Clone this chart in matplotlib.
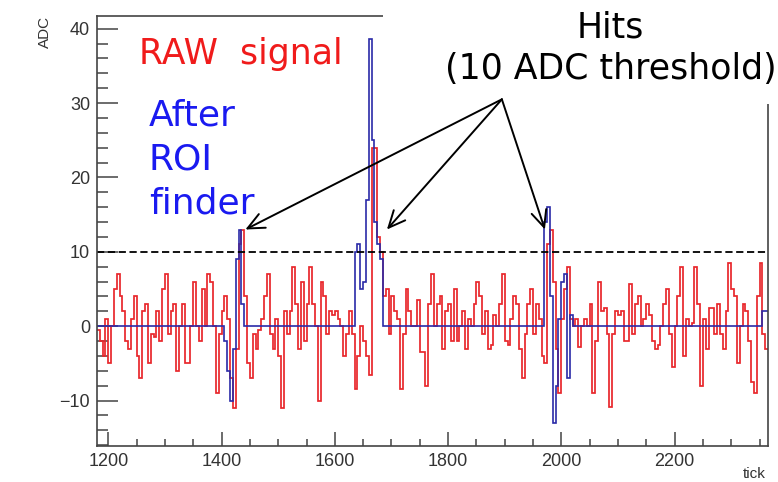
import numpy as np
import matplotlib
matplotlib.use('Agg')
import matplotlib.pyplot as plt
from matplotlib.patches import Rectangle
from matplotlib.ticker import MultipleLocator

plt.rcParams['font.family'] = ['Liberation Sans', 'DejaVu Sans']

# ── waveform: raw ADC per 5-tick bin, starting at tick 1180 ─────────────────
tick0 = 1180
bin_w = 5
raw_adc = [
    -0.5, -2, -4, 1, -5, 0, 5, 7, 4, 2, -2, -3, 1, 4, -4, -7, 2, 3, -5, -1,
    -1.5, 2, -2, 5, 7, -1, 2, 3, -6, 0, 3, -5, -5, 0, 6, 0, -2, 5, 0, 7,
    6, 0, -9, -1, 2, 4, 1, -7, -11, -3, 11, 13, 4, -5, -7, -1, -3, -0.5, 1, 4,
    7, -1, -3, 1, -4, -11, 2, -1, 2, 8, 3, -3, 6, -2, 3, 8, 3, 0,
    -10, 6, 4, -1, 2, 1.5, 2, 1, 0, -4, -1, 2, -1, -8.5, -4, 0, -2, -4, -6.5, 24,
    24, 12, 10, 4, 5, -1, 4, 2, 1, -8.5, -1, 5, 2, 0, 0, 3.5, -3.5, -3.5,
    -8, 3, 7, 0, 3, 4, -3, 2, 3, -2, 5, -2, 0, 2, -3, 1, 0, 3, 6, 4,
    -1, 2, -3, -2.5, 1.5, 0, 3, 7, -2, -2.5, 1, 4, 3, -3, -7, -1, 3, 5,
    -1, 3, 1, -4, -5, 11, 13, 6, -3, -9, 1, 5, 8, 1, 0, 1, -2.8, 0, 1, 0,
    3, -9, -2, 6, 2, 2.5, -1, -10.8, -1, 2, 1.5, 2, -2, -2, 5.7, -1, 3, 4,
    0, 1, 3, 1.5, -2, -3, -2.5, 0, 3, 5, -1, -5.5, 0, 4, 8, -4, 1, 0, 0.5, 8,
    3, -8, 1, -3, 2.5, 2.5, -1, 3, -1, -3, 2, 8.5, 5, 4, -5, 0, 3, 2, -2, -7.5,
    -9, 4, 8.5, -1, -3,
]

# ROI finder output: zero outside the regions of interest
roi_start = [1405, 1635, 1970, 2355]
roi_adc = [
    [-2, -6, -10, -3, 9, 13, 3],
    [10, 11, 5, 6, 17, 38.6, 25, 14, 11, 9],
    [14, 16, 4, -13, -8, 1, 6, 7, -7, 1.5],
    [2, 2],
]

threshold = 10
hit_ticks = [1442, 1692, 1971]
hit_adc = [13, 13, 13]
label_origin = (1895, 30.5)

RED = '#e8272b'
BLUE = '#2a2aa8'
AXC = '#444444'

raw = np.array(raw_adc, dtype=float)
edges = tick0 + bin_w * np.arange(len(raw) + 1)
roi = np.zeros_like(raw)
for s, vals in zip(roi_start, roi_adc):
    i = (s - tick0) // bin_w
    roi[i:i + len(vals)] = vals

W, H = 778, 482
fig = plt.figure(figsize=(W / 100, H / 100), dpi=100)
ax = fig.add_axes([97 / W, 1 - 446 / H, (768 - 97) / W, (446 - 16) / H])

ax.stairs(raw, edges, baseline=None, color=RED, lw=1.25, zorder=2)
ax.stairs(roi, edges, baseline=None, color=BLUE, lw=1.2, zorder=2.2)
ax.axhline(threshold, color='black', lw=1.3, ls=(0, (4, 2)), zorder=2.3)

ax.set_xlim(1180, 2365)
ax.set_ylim(-16.1, 41.7)
ax.xaxis.set_major_locator(MultipleLocator(200))
ax.xaxis.set_minor_locator(MultipleLocator(50))
ax.yaxis.set_major_locator(MultipleLocator(10))
ax.yaxis.set_minor_locator(MultipleLocator(2))
ax.tick_params(axis='both', which='both', direction='in', colors=AXC,
               labelcolor='#333333', labelsize=13, width=1.1, top=False, right=False)
ax.tick_params(axis='y', which='major', length=15, pad=5)
ax.tick_params(axis='y', which='minor', length=8)
ax.tick_params(axis='x', which='major', length=10, pad=5)
ax.tick_params(axis='x', which='minor', length=5)
for sp in ax.spines.values():
    sp.set_color(AXC)
    sp.set_linewidth(1.2)

# white panel behind the "Hits" label hides the frame corner
ax.add_patch(Rectangle((383 / W, 1 - 104 / H), 1, 1, transform=fig.transFigure,
                       facecolor='white', edgecolor='none', clip_on=False, zorder=3))

for t, a in zip(hit_ticks, hit_adc):
    ax.annotate('', xy=(t, a), xytext=label_origin, annotation_clip=False,
                arrowprops=dict(arrowstyle='->,head_length=1.2,head_width=0.55',
                                color='black', lw=1.4, shrinkA=0, shrinkB=0),
                zorder=6)


def px(x, y):
    return x / W, 1 - y / H


fig.text(*px(45, 32), 'ADC', rotation=90, ha='center', va='center',
         fontsize=11, color='#333333')
fig.text(*px(754, 474), 'tick', ha='center', va='center', fontsize=11, color='#333333')

big = dict(family='DejaVu Sans', fontsize=25)
fig.text(*px(241, 54), 'RAW  signal', color='#f01b1b', ha='center', va='center', **big)
blue_txt = dict(family='DejaVu Sans', fontsize=26, color='#1a1af0', ha='left', va='center')
fig.text(*px(149, 116), 'After', **blue_txt)
fig.text(*px(149, 160), 'ROI', **blue_txt)
fig.text(*px(149, 204), 'finder', **blue_txt)
fig.text(*px(610, 27), 'Hits', color='black', ha='center', va='center', zorder=7, **big)
fig.text(*px(611, 69), '(10 ADC threshold)', color='black', ha='center', va='center',
         zorder=7, **big)

fig.savefig('out.png', dpi=100)
